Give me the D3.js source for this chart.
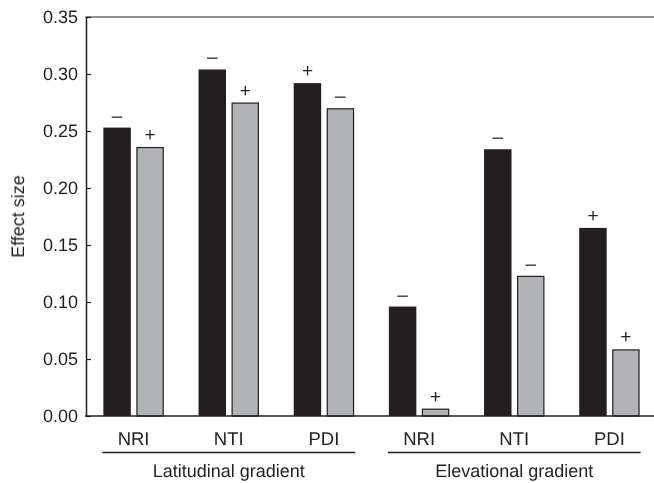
<!DOCTYPE html>
<html>
<head>
<meta charset="utf-8">
<script src="https://cdn.jsdelivr.net/npm/d3@7/dist/d3.min.js"></script>
<style>
  html, body { margin: 0; padding: 0; background: #fff; }
  svg { display: block; -webkit-font-smoothing: antialiased; }
  text { font-family: "Liberation Sans", Arial, Helvetica, sans-serif; fill: #231f20; text-rendering: geometricPrecision; }
</style>
</head>
<body>
<svg id="chart" width="654" height="483"></svg>
<script>
// ---- data ----
const categories = ["NRI", "NTI", "PDI", "NRI", "NTI", "PDI"];
const gradients = ["Latitudinal gradient", "Elevational gradient"];
const gradientOfCategory = [0, 0, 0, 1, 1, 1];
const blackValues = [0.253, 0.304, 0.292, 0.096, 0.234, 0.165];
const grayValues = [0.236, 0.275, 0.270, 0.0065, 0.123, 0.0585];
const blackSigns = ["\u2013", "\u2013", "+", "\u2013", "\u2013", "+"];
const graySigns = ["+", "+", "\u2013", "+", "\u2013", "+"];
const yTicks = [0, 0.05, 0.10, 0.15, 0.20, 0.25, 0.30, 0.35];
const series = ["black", "gray"];

// ---- layout ----
const W = 654, H = 483;
const axisX = 86, yTop = 17, yBottom = 416;
const ink = "#231f20";
const fills = { black: "#231f20", gray: "#b1b3b6" };

const svg = d3.select("#chart");
const root = svg.append("g").attr("opacity", 0.999);

const y = d3.scaleLinear().domain([0, 0.35]).range([yBottom, yTop]);
const x = d3.scaleBand().domain(d3.range(categories.length))
  .range([axisX, axisX + 6 * 95.17]).paddingInner(0.365).paddingOuter(0.1825);
const xi = d3.scaleBand().domain(series).range([0, x.bandwidth()]).paddingInner(0.167);

// bars
const rows = [];
categories.forEach((c, i) => {
  rows.push({ i, s: "black", v: blackValues[i], sign: blackSigns[i] });
  rows.push({ i, s: "gray", v: grayValues[i], sign: graySigns[i] });
});

const g = root.append("g");
g.selectAll("rect.bar").data(rows).join("rect")
  .attr("class", "bar")
  .attr("x", d => x(d.i) + xi(d.s) + (d.s === "gray" ? 0.6 : 0))
  .attr("y", d => y(d.v) + (d.s === "gray" ? 0.6 : 0))
  .attr("width", d => xi.bandwidth() - (d.s === "gray" ? 1.2 : 0))
  .attr("height", d => Math.max(0, yBottom - y(d.v) - (d.s === "gray" ? 0.6 : 0)))
  .attr("fill", d => fills[d.s])
  .attr("stroke", d => d.s === "gray" ? ink : "none")
  .attr("stroke-width", 1.2);

// signs
g.selectAll("text.sign").data(rows).join("text")
  .attr("class", "sign")
  .attr("x", d => x(d.i) + xi(d.s) + xi.bandwidth() / 2)
  .attr("y", d => y(d.v) - 6)
  .attr("text-anchor", "middle")
  .attr("font-size", 19)
  .text(d => d.sign);

// y axis
const yAxis = d3.axisLeft(y).tickValues(yTicks).tickFormat(d3.format(".2f"))
  .tickSizeInner(-5).tickSizeOuter(0).tickPadding(8);
const ya = root.append("g").attr("transform", `translate(${axisX},0)`).call(yAxis);
ya.selectAll("text").attr("font-size", 18).attr("fill", ink)
  .style("font-family", '"Liberation Sans", Arial, sans-serif');
ya.selectAll("line").attr("stroke", ink).attr("stroke-width", 1.2);
ya.select(".domain").attr("stroke", ink).attr("stroke-width", 1.5);

// top line and x axis line
root.append("line").attr("x1", axisX - 0.75).attr("x2", W).attr("y1", y(0.35)).attr("y2", y(0.35))
  .attr("stroke", ink).attr("stroke-width", 1.2);
root.append("line").attr("x1", axisX - 0.75).attr("x2", W).attr("y1", y(0)).attr("y2", y(0))
  .attr("stroke", ink).attr("stroke-width", 1.6);

// y title
root.append("text")
  .attr("transform", `translate(24,${(yTop + yBottom) / 2}) rotate(-90)`)
  .attr("text-anchor", "middle")
  .attr("font-size", 18)
  .text("Effect size");

// category labels
root.selectAll("text.cat").data(categories).join("text")
  .attr("class", "cat")
  .attr("x", (d, i) => x(i) + x.bandwidth() / 2)
  .attr("y", 444.5)
  .attr("text-anchor", "middle")
  .attr("font-size", 18.5)
  .text(d => d);

// gradient groups
const groups = gradients.map((name, gi) => {
  const idx = d3.range(categories.length).filter(i => gradientOfCategory[i] === gi);
  return { name, x0: x(d3.min(idx)) - 1, x1: x(d3.max(idx)) + x.bandwidth() + 1 };
});
root.selectAll("line.grp").data(groups).join("line")
  .attr("class", "grp")
  .attr("x1", d => d.x0).attr("x2", d => d.x1)
  .attr("y1", 452.5).attr("y2", 452.5)
  .attr("stroke", ink).attr("stroke-width", 1.5);
root.selectAll("text.grp").data(groups).join("text")
  .attr("class", "grp")
  .attr("x", d => (d.x0 + d.x1) / 2)
  .attr("y", 477)
  .attr("text-anchor", "middle")
  .attr("font-size", 18)
  .text(d => d.name);
</script>
</body>
</html>
